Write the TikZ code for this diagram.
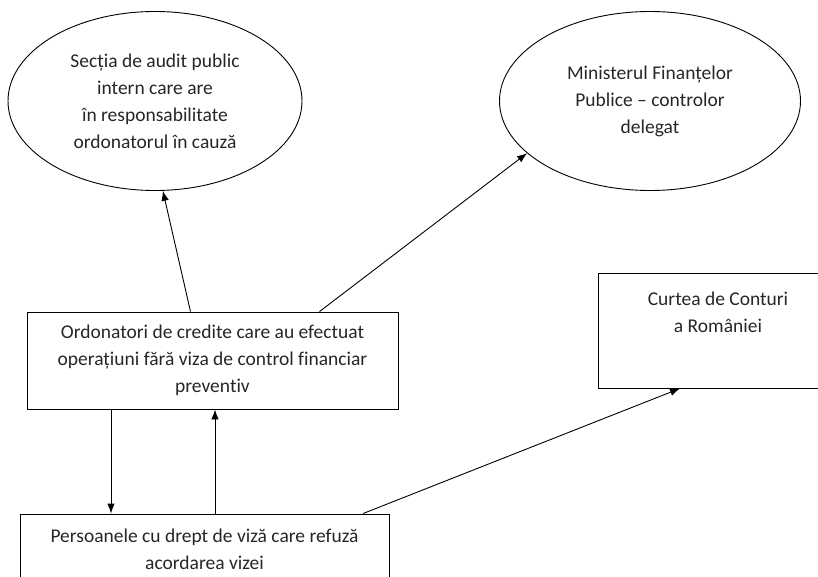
\documentclass[tikz,border=0pt]{standalone}
\usepackage{fontspec}
\setmainfont{Carlito}[Ligatures=NoCommon]
\usetikzlibrary{arrows.meta,shapes.geometric}

\tikzset{
  oval/.style={draw,ellipse,inner sep=0pt,align=center},
  box/.style={draw,rectangle,inner sep=0pt,align=center},
}

\begin{document}
\begin{tikzpicture}[x=1pt,y=-1pt,>={Latex[length=10pt,width=7.5pt]},
  line width=0.9pt,
  font=\fontsize{19.5}{27}\selectfont,text=black!85]
\clip (0,0) rectangle (818,577);
\node[oval,minimum width=294,minimum height=179] (sectia) at (155,101)
  {Secția de audit public\\intern care are\\în responsabilitate\\ordonatorul în cauză};
\node[oval,minimum width=301,minimum height=179] (minister) at (650,101)
  {Ministerul Finanțelor\\Publice -- controlor\\delegat};
\node[box,minimum width=371,minimum height=97] (ord) at (212.5,360.5)
  {Ordonatori de credite care au efectuat\\operațiuni fără viza de control financiar\\preventiv};
\node[box,minimum width=240,minimum height=115] (curtea) at (718,330.5)
  {Curtea de Conturi\\a României\\[10pt]};
\node[box,minimum width=369,minimum height=70] (pers) at (204.5,549)
  {Persoanele cu drept de viză care refuză\\acordarea vizei};
\draw[->] ([xshift=-22pt]ord.north) -- (sectia.-85);
\draw[->] ([xshift=107pt]ord.north) -- (minister.203.5);
\draw[->] ([xshift=-101.5pt]ord.south) -- ([xshift=-101.5pt]ord.south |- pers.north);
\draw[->] ([xshift=2.5pt]ord.south |- pers.north) -- ([xshift=2.5pt]ord.south);
\draw[->] ([xshift=158.5pt]pers.north) -- ([xshift=-38pt]curtea.south);
\end{tikzpicture}
\end{document}
